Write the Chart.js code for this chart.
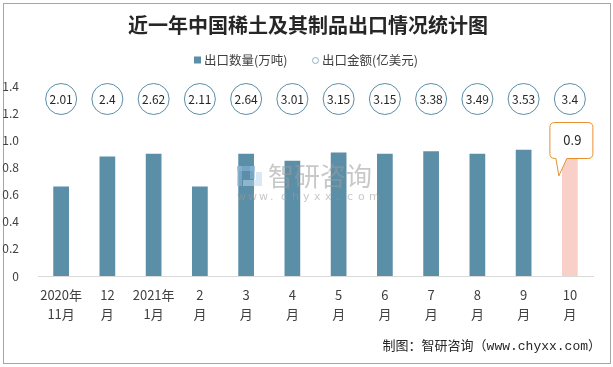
<!DOCTYPE html>
<html>
<head>
<meta charset="utf-8">
<script src="https://cdn.jsdelivr.net/npm/chart.js@4/dist/chart.umd.min.js"></script>
<style>
html,body{margin:0;padding:0;background:#fff;}
#wrap{position:relative;width:613px;height:367px;}
</style>
</head>
<body>
<div id="wrap"><canvas id="c" width="613" height="367"></canvas></div>
<script>
// ---- data ----
const categories = [['2020年','11月'],['12','月'],['2021年','1月'],['2','月'],['3','月'],['4','月'],['5','月'],['6','月'],['7','月'],['8','月'],['9','月'],['10','月']];
const exportVolume = [0.66, 0.88, 0.90, 0.66, 0.90, 0.85, 0.91, 0.90, 0.92, 0.90, 0.93, 0.90]; // 万吨
const exportValue = [2.01, 2.4, 2.62, 2.11, 2.64, 3.01, 3.15, 3.15, 3.38, 3.49, 3.53, 3.4]; // 亿美元
const yTicks = [0, 0.2, 0.4, 0.6, 0.8, 1, 1.2, 1.4];
const titleText = '近一年中国稀土及其制品出口情况统计图';
const legendVolume = '出口数量(万吨)';
const legendValue = '出口金额(亿美元)';
const footerText = '制图：智研咨询（www.chyxx.com）';

const BLUE = '#5b8fa8';
const PINK = '#f8d0c7';
const ORANGE = '#e8902e';
const TXT = '#404040';
const CJK = '"Noto Sans CJK SC","Noto Sans",sans-serif';

const barColors = exportVolume.map((v,i)=> i === exportVolume.length-1 ? PINK : BLUE);

const decor = {
  id:'decor',
  beforeDraw(chart){
    const ctx = chart.ctx;
    ctx.save();
    ctx.fillStyle = '#fff';
    ctx.fillRect(0,0,chart.width,chart.height);
    // border
    ctx.strokeStyle = '#a6a6a6';
    ctx.lineWidth = 1;
    ctx.strokeRect(3.5,3.5,607,360);
    // title
    ctx.fillStyle = '#262626';
    ctx.font = 'bold 20px ' + CJK;
    ctx.textAlign = 'center';
    ctx.textBaseline = 'middle';
    ctx.fillText(titleText, 308, 25);
    // legend
    ctx.font = '12.5px ' + CJK;
    ctx.textAlign = 'left';
    ctx.fillStyle = BLUE;
    ctx.fillRect(194,56.5,7,7);
    ctx.fillStyle = TXT;
    ctx.fillText(legendVolume, 204, 60);
    ctx.beginPath();
    ctx.arc(315.5,60.5,3,0,Math.PI*2);
    ctx.strokeStyle = '#8fb0c3';
    ctx.stroke();
    ctx.fillText(legendValue, 322, 60);
    // footer
    ctx.font = '13px "Liberation Mono","Noto Sans CJK SC",monospace';
    ctx.textAlign = 'right';
    ctx.fillStyle = '#262626';
    ctx.fillText(footerText, 601, 347);
    ctx.restore();
  },
  afterDatasetsDraw(chart){
    const ctx = chart.ctx;
    const xs = chart.scales.x, ys = chart.scales.y;
    ctx.save();
    // watermark
    ctx.globalAlpha = 0.55;
    ctx.fillStyle = '#8fb8d8';
    ctx.fillRect(237,166,5,20);
    ctx.fillRect(237,166,18,5);
    ctx.fillRect(250,166,5,13);
    ctx.fillStyle = '#b9d6ea';
    ctx.fillRect(256,172,6,14);
    ctx.fillRect(243,180,13,6);
    ctx.fillStyle = '#9a9a9a';
    ctx.font = '26px ' + CJK;
    ctx.textAlign = 'left';
    ctx.textBaseline = 'middle';
    ctx.fillText('智研咨询', 268, 176);
    ctx.font = '11px "DejaVu Sans",sans-serif';
    const w = 'www.chyxx.com';
    for (let i=0;i<w.length;i++){
      ctx.fillText(w[i], 237 + i*11, 197);
    }
    ctx.globalAlpha = 1;
    // value circles
    const cy = 99;
    ctx.font = '12px ' + CJK;
    ctx.textAlign = 'center';
    exportValue.forEach((v,i)=>{
      const cx = xs.getPixelForValue(i);
      ctx.beginPath();
      ctx.arc(cx, cy, 15.5, 0, Math.PI*2);
      ctx.fillStyle = '#fff';
      ctx.fill();
      ctx.strokeStyle = BLUE;
      ctx.lineWidth = 1;
      ctx.stroke();
      ctx.fillStyle = '#262626';
      ctx.fillText(String(v), cx, cy+0.5);
    });
    // callout for last bar
    const li = exportVolume.length-1;
    const bx = xs.getPixelForValue(li);
    const top = ys.getPixelForValue(exportVolume[li]);
    const L = bx - 20, R = bx + 23, T = 122.5, B = 158.5, r = 5;
    const tipX = bx - 11, tipY = top + 22;
    ctx.beginPath();
    ctx.moveTo(L+r, T);
    ctx.lineTo(R-r, T); ctx.quadraticCurveTo(R, T, R, T+r);
    ctx.lineTo(R, B-r); ctx.quadraticCurveTo(R, B, R-r, B);
    ctx.lineTo(bx-3, B);
    ctx.lineTo(tipX, tipY);
    ctx.lineTo(bx-14, B);
    ctx.lineTo(L+r, B); ctx.quadraticCurveTo(L, B, L, B-r);
    ctx.lineTo(L, T+r); ctx.quadraticCurveTo(L, T, L+r, T);
    ctx.closePath();
    ctx.fillStyle = '#fff';
    ctx.fill();
    ctx.strokeStyle = ORANGE;
    ctx.lineWidth = 1;
    ctx.stroke();
    ctx.fillStyle = '#262626';
    ctx.font = '13px ' + CJK;
    ctx.fillText(String(exportVolume[li]), (L+R)/2 + 1, (T+B)/2);
    ctx.restore();
  }
};

new Chart(document.getElementById('c'), {
  type:'bar',
  data:{
    labels: categories,
    datasets:[{
      label: legendVolume,
      data: exportVolume,
      backgroundColor: barColors,
      borderWidth: 0,
      barPercentage: 0.34,
      categoryPercentage: 1
    }]
  },
  options:{
    responsive:false,
    animation:false,
    events:[],
    layout:{padding:{top:86, right:20, left:0, bottom:42}},
    plugins:{legend:{display:false}, title:{display:false}, tooltip:{enabled:false}},
    scales:{
      x:{
        grid:{display:false},
        border:{display:true,color:'#d9d9d9',width:1},
        ticks:{color:TXT,font:{size:13,family:CJK,lineHeight:1.5},padding:1,maxRotation:0,autoSkip:false}
      },
      y:{
        min:0,max:1.4,
        afterBuildTicks(scale){ scale.ticks = yTicks.map(v=>({value:v})); },
        afterFit(scale){ scale.width = 38; },
        grid:{display:false},
        border:{display:false},
        ticks:{color:TXT,font:{size:12,family:CJK},padding:11}
      }
    }
  },
  plugins:[decor]
});
</script>
</body>
</html>
